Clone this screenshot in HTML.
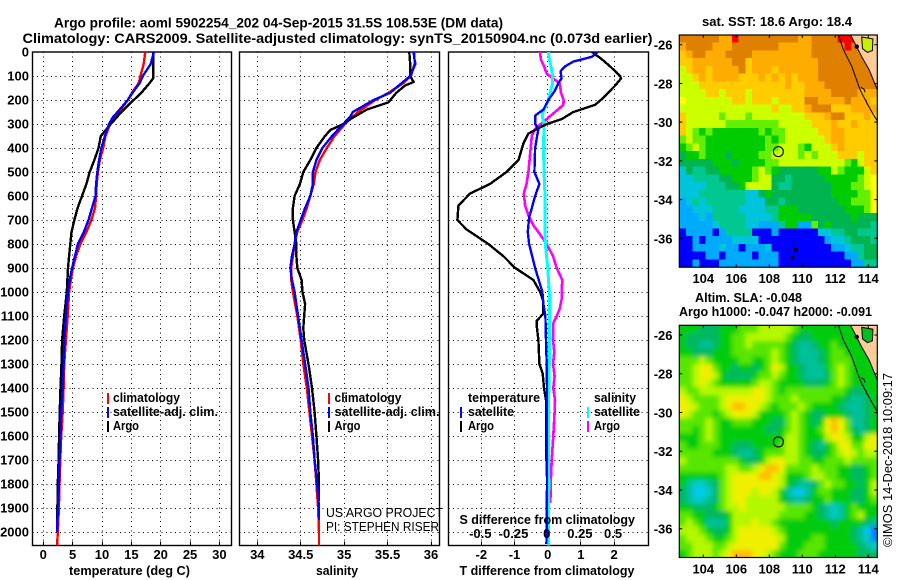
<!DOCTYPE html>
<html lang="en">
<head>
<meta charset="utf-8">
<title>Argo profile chart</title>
<style>
html,body{margin:0;padding:0;background:#fff;}
#chart{display:block;width:900px;height:580px;}
text{font-family:"Liberation Sans",sans-serif;fill:#000;}
.b{font-weight:bold;font-size:13px;}
.t{font-weight:bold;font-size:14px;}
.n{font-weight:normal;font-size:13px;}
</style>
</head>
<body>
<svg id="chart" xmlns="http://www.w3.org/2000/svg" width="900" height="580" viewBox="0 0 900 580">
<defs>
<clipPath id="clip-p1"><rect x="32.5" y="52" width="199" height="493.5"/></clipPath>
<clipPath id="clip-p2"><rect x="239.5" y="52" width="200" height="493.5"/></clipPath>
<clipPath id="clip-p3"><rect x="448.5" y="52" width="200" height="493.5"/></clipPath>
<clipPath id="clip-m1"><rect x="679.3" y="35" width="198" height="232.3"/></clipPath>
<clipPath id="clip-m2"><rect x="679.3" y="325.3" width="198" height="232"/></clipPath>
<filter id="soft" x="-10%" y="-10%" width="120%" height="120%"><feGaussianBlur stdDeviation="2.4"/></filter>
</defs>
<rect x="0" y="0" width="900" height="580" fill="#fff"/>

<text class="t" x="54" y="27.5" textLength="449" lengthAdjust="spacingAndGlyphs">Argo profile: aoml 5902254_202 04-Sep-2015 31.5S 108.53E (DM data)</text>
<text class="t" x="22.5" y="43" textLength="630" lengthAdjust="spacingAndGlyphs">Climatology: CARS2009. Satellite-adjusted climatology: synTS_20150904.nc (0.073d earlier)</text>

<g id="panel-t"></g>
<g id="panel-s"></g>
<g id="panel-d"></g>
<g id="map-top"></g>
<g id="map-bot"></g>

<text class="b" x="69" y="575" textLength="121" lengthAdjust="spacingAndGlyphs">temperature (deg C)</text>
<text class="b" x="316" y="575" textLength="42" lengthAdjust="spacingAndGlyphs">salinity</text>
<text class="b" x="459.5" y="575" textLength="175" lengthAdjust="spacingAndGlyphs">T difference from climatology</text>
<text class="b" x="459.5" y="524" textLength="175.5" lengthAdjust="spacingAndGlyphs">S difference from climatology</text>

<g>
<rect x="107" y="393" width="2" height="11" fill="#f00"/>
<rect x="107" y="407" width="2" height="11" fill="#00f"/>
<rect x="107" y="421" width="2" height="11" fill="#000"/>
<text class="b" x="113" y="402" textLength="67" lengthAdjust="spacingAndGlyphs">climatology</text>
<text class="b" x="113" y="416" textLength="105" lengthAdjust="spacingAndGlyphs">satellite-adj. clim.</text>
<text class="b" x="113" y="430" textLength="26" lengthAdjust="spacingAndGlyphs">Argo</text>
</g>
<g>
<rect x="328" y="393" width="2" height="11" fill="#f00"/>
<rect x="328" y="407" width="2" height="11" fill="#00f"/>
<rect x="328" y="421" width="2" height="11" fill="#000"/>
<text class="b" x="334.5" y="402" textLength="67" lengthAdjust="spacingAndGlyphs">climatology</text>
<text class="b" x="334.5" y="416" textLength="105" lengthAdjust="spacingAndGlyphs">satellite-adj. clim.</text>
<text class="b" x="334.5" y="430" textLength="26" lengthAdjust="spacingAndGlyphs">Argo</text>
<text class="n" x="326" y="517" textLength="117" lengthAdjust="spacingAndGlyphs">US ARGO PROJECT</text>
<text class="n" x="326" y="531" textLength="113" lengthAdjust="spacingAndGlyphs">PI: STEPHEN RISER</text>
</g>
<g>
<text class="b" x="468" y="402" textLength="72" lengthAdjust="spacingAndGlyphs">temperature</text>
<rect x="460" y="407" width="2" height="11" fill="#00f"/>
<text class="b" x="468" y="416" textLength="46" lengthAdjust="spacingAndGlyphs">satellite</text>
<rect x="460" y="421" width="2" height="11" fill="#000"/>
<text class="b" x="468" y="430" textLength="26" lengthAdjust="spacingAndGlyphs">Argo</text>
<text class="b" x="594" y="402" textLength="42" lengthAdjust="spacingAndGlyphs">salinity</text>
<rect x="587" y="407" width="2" height="11" fill="#0ff"/>
<text class="b" x="594" y="416" textLength="46" lengthAdjust="spacingAndGlyphs">satellite</text>
<rect x="587" y="421" width="2" height="11" fill="#f0f"/>
<text class="b" x="594" y="430" textLength="26" lengthAdjust="spacingAndGlyphs">Argo</text>
</g>

<text class="b" x="702" y="26" textLength="150" lengthAdjust="spacingAndGlyphs">sat. SST: 18.6 Argo: 18.4</text>
<text class="b" x="695" y="302" textLength="107" lengthAdjust="spacingAndGlyphs">Altim. SLA: -0.048</text>
<text class="b" x="679" y="316" textLength="193" lengthAdjust="spacingAndGlyphs">Argo h1000: -0.047 h2000: -0.091</text>
<text class="n" transform="translate(892 547) rotate(-90)" x="0" y="0" textLength="174" lengthAdjust="spacingAndGlyphs">©IMOS 14-Dec-2018 10:09:17</text>
</svg>

<script>
// ---------- profile data (depth in m) ----------
var climDepth = [0,50,100,130,170,200,250,300,350,400,450,500,550,600,650,700,750,800,850,900,950,1000,1100,1200,1300,1400,1500,1600,1700,1800,1900,2000,2056];
var climTemp  = [17.36,17.1,16.55,16.26,15.1,14.4,12.9,11.4,10.6,10.2,9.65,9.3,9.1,9.0,8.8,8.2,7.35,6.3,5.6,5.05,4.7,4.4,4.15,3.85,3.56,3.45,3.3,3.05,2.9,2.76,2.65,2.47,2.35];
var climSal   = [35.81,35.81,35.77,35.68,35.51,35.36,35.16,35.01,34.89,34.80,34.72,34.67,34.65,34.61,34.57,34.52,34.46,34.43,34.41,34.39,34.39,34.41,34.46,34.5,34.53,34.57,34.6,34.63,34.66,34.68,34.7,34.71,34.71];

var satDepth = [0,50,100,130,170,200,250,270,300,350,400,450,500,550,600,650,700,750,800,850,900,950,1000,1100,1200,1300,1400,1500,1600,1700,1800,1900,1950,2000];
var satTemp  = [18.85,18.3,16.95,16.4,15.2,14.4,12.65,11.9,11.2,10.5,9.9,9.5,9.2,9,8.9,8.3,7.7,6.9,5.9,5.4,4.9,4.5,4.2,3.85,3.6,3.45,3.3,3.05,2.93,2.76,2.65,2.5,2.4,2.4];
var satSalDepth = [0,30,50,100,130,170,200,250,270,300,350,400,450,500,550,600,650,700,750,800,850,900,950,1000,1100,1200,1300,1400,1500,1600,1700,1800,1900,1950];
var satSal   = [35.80,35.81,35.82,35.76,35.66,35.53,35.34,35.1,35.07,34.99,34.86,34.75,34.68,34.64,34.64,34.61,34.55,34.5,34.45,34.43,34.40,34.38,34.4,34.43,34.47,34.51,34.55,34.59,34.61,34.64,34.66,34.69,34.71,34.71];

var argoTempDepth = [0,50,110,130,170,200,250,300,350,400,450,500,550,600,650,700,750,800,850,900,1000,1100,1200,1300,1400,1500,1600,1700,1800,1900,1950];
var argoTemp = [18.75,18.7,18.7,18.1,16.7,15.4,13.3,11.5,9.8,9.4,8.7,7.9,7.35,6.6,5.85,5.3,4.8,4.6,4.4,4.2,4.0,3.56,3.2,3.1,2.93,2.8,2.7,2.6,2.47,2.4,2.4];
var argoSalDepth = [0,50,100,125,140,170,210,240,280,300,325,350,400,450,500,550,600,650,700,750,800,850,900,950,1000,1050,1100,1150,1200,1300,1400,1500,1600,1700,1800,1870];
var argoSal = [35.75,35.76,35.76,35.8,35.7,35.6,35.51,35.26,35.07,34.99,34.84,34.78,34.68,34.61,34.53,34.49,34.43,34.41,34.41,34.43,34.45,34.45,34.46,34.51,34.52,34.55,34.54,34.53,34.54,34.59,34.63,34.66,34.68,34.7,34.71,34.71];

var dtArgoDepth = [0,30,60,100,110,140,190,220,250,280,300,325,340,380,450,500,550,590,640,700,740,800,850,900,950,1000,1040,1090,1120,1140,1200,1300,1340,1400,1450,1500,1600,1700];
var dtArgo = [1.33,1.63,1.88,2.18,2.21,2.03,1.68,1.43,0.77,0.42,-0.03,-0.38,-0.58,-0.73,-0.88,-1.24,-1.74,-2.34,-2.69,-2.72,-2.44,-1.79,-1.34,-0.98,-0.43,-0.23,-0.13,-0.13,-0.33,-0.33,-0.28,-0.25,-0.15,-0.11,-0.05,-0.04,-0.04,-0.05];
var dtSatDepth = [0,20,40,60,80,110,130,160,200,240,265,300,320,400,500,550,600,650,690,750,800,900,1000,1050,1100,1200,1300,1400,1600,1800,2000,2050];
var dtSat = [1.5,1.33,0.77,0.52,0.39,0.42,0.32,0.22,0.02,-0.13,-0.38,-0.38,-0.28,-0.38,-0.4,-0.25,-0.38,-0.48,-0.56,-0.6,-0.56,-0.38,-0.16,-0.13,-0.07,-0.05,-0.03,-0.02,-0.03,-0.02,-0.03,-0.04];
var dsArgoDepth = [0,30,60,90,110,130,170,200,220,250,280,320,350,400,500,550,590,640,680,720,760,800,850,900,950,1000,1030,1070,1100,1130,1200,1250,1300,1350,1400,1450,1500,1600,1700,1800,1880];
var dsArgo = [-0.058,-0.052,-0.027,-0.008,0.04,0.09,0.1,0.12,0.118,0.055,-0.008,-0.095,-0.12,-0.128,-0.145,-0.16,-0.18,-0.17,-0.145,-0.11,-0.058,-0.008,0.04,0.068,0.11,0.105,0.105,0.09,0.068,0.042,0.04,0.05,0.04,0.052,0.042,0.055,0.052,0.042,0.03,0.022,0.02];
var dsSatDepth = [0,30,60,100,130,170,200,240,265,300,400,500,600,700,800,850,900,1000,1100,1200,1300,1400,1600,1800,2056];
var dsSat = [0.005,0.012,0.025,0.038,0.038,0.018,0.005,-0.028,-0.042,-0.028,-0.032,-0.028,-0.02,-0.02,-0.018,-0.008,0,0.012,0.015,0.015,0.012,0.008,0.005,0.008,0.005];

var depthTicks = [0,100,200,300,400,500,600,700,800,900,1000,1100,1200,1300,1400,1500,1600,1700,1800,1900,2000];
var tempTicks = [0,5,10,15,20,25,30];
var salTicks = ['34','34.5','35','35.5','36'];
var dtTicks = ['-2','-1','0','1','2'];
var dsTicks = ['-0.5','-0.25','0','0.25','0.5'];

// ---------- map data ----------
var lonTicks = [104,106,108,110,112,114];
var latTicks = [-26,-28,-30,-32,-34,-36];
var probeLon = 108.55;
var probeLat = -31.52;
var sstRows = [
"OOOOO OooRO OOOOO OOOoo OOOOR RROOO",
"oOOOO oooOO OOOOO ooooo OOOOO ROOOO",
"aoOOo ooOOO Ooooo ooooo OOOOO OOOOO",
"aaooo oooOO aoooo ooooo oOOOO OOOOO",
"yaooa ooooO aoooa ooooo oOOOO OOOOO",
"yyaoa ooooa aaoao aoaoo oOOOO OOOOO",
"yyyaa aaaaa aaaaa aoaao ooOOO OOOOO",
"yyyya ayaaa yaaaa aaaao oooOO OOooo",
"Yyyyy yyyaa yaaay aaaaO Ooooo Ooooa",
"yyyyy yyyyy yyyya yyaao OOOaa aoooo",
"ayyyy ylyyy lyyyy yyyya aaoOO aaaoa",
"ayyyy yylll lllll yyyyy aaaoa aoaaa",
"aylGl GGGGG GGlGl lyyyy yaaoo aaaaa",
"lyllG GGGGG GGGlG lyyyy yyaoo aaaaa",
"GlylG GGGGG GGGll yyylG yyyao aaaaa",
"gGGlG GGgGG GGlly yyyly lyyya aayaa",
"ggggg GGGgG GGGll yyyyy yyyyy lGyaa",
"cgttg gGGGG GlylG ggggg gGGyl GGGya",
"ccttt tggGG Glyyg gtggg ggGGG GGlyY",
"cccct ttggG yyyyg ttggg gggGG GllyY",
"ccctt ttttt ccgGg ggggg gggGG GGllY",
"sctct ttttt cccgg tgggg ggggG GlllY",
"ssccc ttttc ccctt GGGgg ggggg GGGlY",
"ssscs ttttt cccct GGGGG ggggg gGggg",
"sssss ctttt ccsss tGGss lgGgg ggggt",
"bssss bsttt tbbbs bbbbb bcctt ggttt",
"bbsbs ssscc ccbbb bbbbb bbscc tgggt",
"bbsss scssb ssscb bbbbb bbbss cttgg",
"bbbbs sbsss sbsss bbbbb bbbbb sstgg",
"bbsbb bssss sssss bbbbb bbbbb bsstt"
];
var slaRows = [
"55544 45556 66777 77655 55555 55555",
"54444 45566 77777 76544 55555 55555",
"54433 45566 76666 65433 45565 55555",
"55444 55566 66667 65433 34566 55555",
"66676 55556 65567 65433 34566 65555",
"66788 65545 54568 75543 33567 65555",
"66788 75444 45667 65543 33467 65555",
"66787 65555 56776 55554 44567 65555",
"76677 77777 78876 56666 66666 54455",
"87666 67888 88876 66766 66655 43345",
"88766 67899 88765 66676 55554 33345",
"87666 56788 87555 56765 44555 43345",
"66667 65566 65554 46765 45898 63345",
"66567 65555 55544 56765 56898 64345",
"55567 65555 55555 57765 55788 75578",
"65566 65544 45555 67765 43568 86688",
"66666 55543 34566 67765 44567 87677",
"76666 66665 44578 87766 55666 76666",
"66666 66776 67899 86666 76665 54456",
"55555 56788 88998 75556 77665 54456",
"53223 46788 88888 75433 46766 55457",
"43112 46788 87887 53113 56655 54457",
"43223 46788 77777 54334 55655 54456",
"55444 56778 77777 76666 54323 56555",
"66554 44577 77777 66665 54323 56755",
"67653 33577 78776 55555 55545 55543",
"77765 44578 88887 65555 55555 54310",
"67776 55678 88888 75555 66555 54320",
"66777 66788 88888 65556 66555 55432",
"56777 67899 98876 55566 65555 55444"
];
var coldCells = [[109.6,-36.6],[109.4,-37.0]];
var shelfLon = [112.19,112.49,113.0,113.5,113.9,114.3,114.55];
var shelfLat = [-25.5,-26.26,-27.12,-28.32,-29.0,-29.6,-29.95];
var coastLon = [112.93,113.19,113.6,114.06,114.55];
var coastLat = [-25.5,-25.93,-26.62,-27.31,-28.34];
var landLon = [112.93,113.19,113.6,114.06,114.55,114.55];
var landLat = [-25.5,-25.93,-26.62,-27.31,-28.34,-25.5];
var isleLon = [113.6,114.28,114.25,113.95,113.65];
var isleLat = [-25.6,-25.7,-26.3,-26.4,-26.2];
var reefLon = [113.3];
var reefLat = [-26.1];
var dashLon = [113.55,113.75,113.8];
var dashLat = [-28.2,-28.3,-28.45];
var dash2Lon = [113.85,113.95];
var dash2Lat = [-28.85,-29.1];
var sstColors = {O:'#e08000',o:'#ffac00',a:'#ffcc00',Y:'#ffff00',y:'#ccff00',l:'#64ee00',G:'#00cc00',g:'#00b450',t:'#00c890',c:'#00c4dc',s:'#00aaff',b:'#0000ff',R:'#ff0000',P:'#ffcc99'};
var slaColors = {'0':'#0080ff','1':'#00c8f0','2':'#00ccc8','3':'#00c09a','4':'#00b860','5':'#00cc10','6':'#58e600','7':'#b4f800','8':'#eef000','9':'#ffbe00'};

// ---------- helpers ----------
var NS = 'http://www.w3.org/2000/svg';
function mk(tag, attrs, parent){
  var e = document.createElementNS(NS, tag);
  for (var k in attrs) e.setAttribute(k, attrs[k]);
  parent.appendChild(e);
  return e;
}
var TOP = 52, BOT = 545.5;
function yDepth(d){ return 52 + 0.24*d; }
function xTemp(v){ return 43.3 + 5.87*v; }
function xSal(v){ return 257.3 + 86.85*(v-34); }
function xDT(v){ return 547.7 + 33.2*v; }
function xDS(v){ return 547.7 + 132.8*v; }
function xLon(v){ return 703.3 + 16.5*(v-104); }
function yLat(v, top){ return top + 9.7 + 19.37*(-26-v); }
function snap(v){ return Math.floor(v) + 0.5; }

function drawFrame(g, x0, x1, xvals, labels, xf, name){
  var i, d, el;
  for (i=0;i<depthTicks.length;i++){
    d = depthTicks[i];
    if (d===0) continue;
    el = mk('line',{x1:x0,x2:x1,y1:snap(yDepth(d)),y2:snap(yDepth(d)),stroke:'#000','stroke-width':1,'stroke-dasharray':'1 3.6','shape-rendering':'crispEdges'},g);
    
    
  }
  for (i=0;i<xvals.length;i++){
    var px = xf(+xvals[i]);
    var sx = snap(px);
    el = mk('line',{x1:sx,x2:sx,y1:TOP,y2:BOT,stroke:'#000','stroke-width':1,'stroke-dasharray':'1 3.6','shape-rendering':'crispEdges'},g);
    
    
    el = mk('text',{x:px,y:559,'text-anchor':'middle','class':'b'},g);
    el.textContent = labels[i];
    
    
    el = mk('line',{x1:sx,x2:sx,y1:BOT-4,y2:BOT,stroke:'#000','shape-rendering':'crispEdges'},g);
    
    
  }
  el = mk('rect',{x:x0,y:TOP,width:x1-x0,height:BOT-TOP,fill:'none',stroke:'#000','stroke-width':1.4},g);
  
  
}
function drawLine(g, depths, vals, xf, color, w, clip, name){
  var pts = [];
  for (var i=0;i<vals.length;i++) pts.push(xf(vals[i]).toFixed(1)+','+yDepth(depths[i]).toFixed(1));
  var el = mk('polyline',{points:pts.join(' '),fill:'none',stroke:color,'stroke-width':w,'stroke-linejoin':'round','clip-path':'url(#'+clip+')','shape-rendering':'crispEdges'},g);
  
  
}
function drawDepthLabels(g){
  for (var i=0;i<depthTicks.length;i++){
    var el = mk('text',{x:29,y:yDepth(depthTicks[i])+4.5,'text-anchor':'end','class':'b'},g);
    el.textContent = String(depthTicks[i]);
    
    
  }
}
function drawMap(g, rows, colors, top, clip, soft, name){
  var holder = mk('g',{'clip-path':'url(#'+clip+')'},g);
  
  
  var layer = soft ? mk('g',{filter:'url(#soft)'},holder) : holder;
  var cw = 6.6, ch = 232.2/rows.length;
  for (var r=0;r<rows.length;r++){
    var row = rows[r].replace(/ /g,'');
    for (var c=0;c<row.length;c++){
      var x = 679.3 + c*cw, y = top + r*ch, w = cw+0.3, h = ch+0.3;
      if (soft){
        if (c===0){ x -= 12; w += 12; }
        if (c===row.length-1){ w += 12; }
        if (r===0){ y -= 12; h += 12; }
        if (r===rows.length-1){ h += 12; }
      }
      var cell = mk('rect',{x:x.toFixed(2),y:y.toFixed(2),width:w.toFixed(2),height:h.toFixed(2),fill:colors[row[c]],'shape-rendering':'crispEdges'},layer);
      
      
    }
  }
  return holder;
}
function polyPts(lons, lats, top){
  var p = [];
  for (var i=0;i<lons.length;i++) p.push(xLon(lons[i]).toFixed(1)+','+yLat(lats[i],top).toFixed(1));
  return p.join(' ');
}
function drawMapOverlay(g, holder, top, isleColor, name){
  var el = mk('polygon',{points:polyPts(landLon,landLat,top),fill:'#ffcc99'},holder);
  
  
  el = mk('polygon',{points:polyPts(isleLon,isleLat,top),fill:isleColor,stroke:'#000','stroke-width':1},holder);
  
  
  el = mk('polyline',{points:polyPts(shelfLon,shelfLat,top),fill:'none',stroke:'#000','stroke-width':1},holder);
  
  
  el = mk('polyline',{points:polyPts(coastLon,coastLat,top),fill:'none',stroke:'#000','stroke-width':1},holder);
  
  
  el = mk('polyline',{points:polyPts(dashLon,dashLat,top),fill:'none',stroke:'#000','stroke-width':1},holder);
  
  
  el = mk('polyline',{points:polyPts(dash2Lon,dash2Lat,top),fill:'none',stroke:'#000','stroke-width':1,'stroke-dasharray':'2 2'},holder);
  
  
  el = mk('circle',{cx:xLon(reefLon[0]),cy:yLat(reefLat[0],top),r:2.2,fill:'#000'},holder);
  
  
  el = mk('circle',{cx:xLon(probeLon),cy:yLat(probeLat,top),r:5,fill:'none',stroke:'#000','stroke-width':1.1},holder);
  
  
  el = mk('rect',{x:679.3,y:top,width:198,height:232.2,fill:'none',stroke:'#000','stroke-width':1.2},g);
  
  
  var i, t;
  for (i=0;i<lonTicks.length;i++){
    var x = xLon(lonTicks[i]);
    el = mk('path',{d:'M'+x+' '+top+'v3M'+x+' '+(top+232.2)+'v-3',stroke:'#000',fill:'none'},g);
    
    
    t = mk('text',{x:x,y:top+248,'text-anchor':'middle','class':'b'},g);
    t.textContent = String(lonTicks[i]);
    
    
  }
  for (i=0;i<latTicks.length;i++){
    var y = yLat(latTicks[i],top);
    el = mk('path',{d:'M679.3 '+y+'h3M877.3 '+y+'h-3',stroke:'#000',fill:'none'},g);
    
    
    t = mk('text',{x:672.5,y:y+5,'text-anchor':'end','class':'b'},g);
    t.textContent = String(latTicks[i]);
    
    
  }
}

// ---------- draw ----------
var gT = document.getElementById('panel-t');
var gS = document.getElementById('panel-s');
var gD = document.getElementById('panel-d');
drawFrame(gT, 32.5, 231.5, tempTicks, tempTicks, xTemp, 'temperature');
drawDepthLabels(gT);
drawLine(gT, climDepth, climTemp, xTemp, '#f00', 2.4, 'clip-p1', 'temperature-climatology-line');
drawLine(gT, argoTempDepth, argoTemp, xTemp, '#000', 2.4, 'clip-p1', 'temperature-argo-line');
drawLine(gT, satDepth, satTemp, xTemp, '#00f', 2.4, 'clip-p1', 'temperature-satellite-line');

drawFrame(gS, 239.5, 439.5, salTicks, salTicks, xSal, 'salinity');
drawLine(gS, climDepth, climSal, xSal, '#f00', 2.4, 'clip-p2', 'salinity-climatology-line');
drawLine(gS, argoSalDepth, argoSal, xSal, '#000', 2.4, 'clip-p2', 'salinity-argo-line');
drawLine(gS, satSalDepth, satSal, xSal, '#00f', 2.4, 'clip-p2', 'salinity-satellite-line');

drawFrame(gD, 448.5, 648.5, dtTicks, dtTicks, xDT, 'difference');
drawLine(gD, dsArgoDepth, dsArgo, xDS, '#f0f', 2.6, 'clip-p3', 'salinity-argo-difference-line');
drawLine(gD, dsSatDepth, dsSat, xDS, '#0ff', 3, 'clip-p3', 'salinity-satellite-difference-line');
drawLine(gD, dtArgoDepth, dtArgo, xDT, '#000', 2.4, 'clip-p3', 'temperature-argo-difference-line');
drawLine(gD, dtSatDepth, dtSat, xDT, '#00f', 2.4, 'clip-p3', 'temperature-satellite-difference-line');
for (var si=0; si<dsTicks.length; si++){
  var st = mk('text',{x:xDS(+dsTicks[si])-1,y:538,'text-anchor':'middle','class':'b'},gD);
  st.textContent = dsTicks[si];
  
  
}

var gM1 = document.getElementById('map-top');
var hM1 = drawMap(gM1, sstRows, sstColors, 35, 'clip-m1', false, 'sst-map');
for (var ci=0; ci<coldCells.length; ci++){
  var cc = mk('rect',{x:xLon(coldCells[ci][0])-1.6,y:yLat(coldCells[ci][1],35)-1.9,width:3.3,height:3.9,fill:'#000'},hM1);
  
  
}
drawMapOverlay(gM1, hM1, 35, '#c8f000', 'sst-map');
var gM2 = document.getElementById('map-bot');
var hM2 = drawMap(gM2, slaRows, slaColors, 325.3, 'clip-m2', true, 'sla-map');
drawMapOverlay(gM2, hM2, 325.3, '#00c020', 'sla-map');
</script>
</body>
</html>
